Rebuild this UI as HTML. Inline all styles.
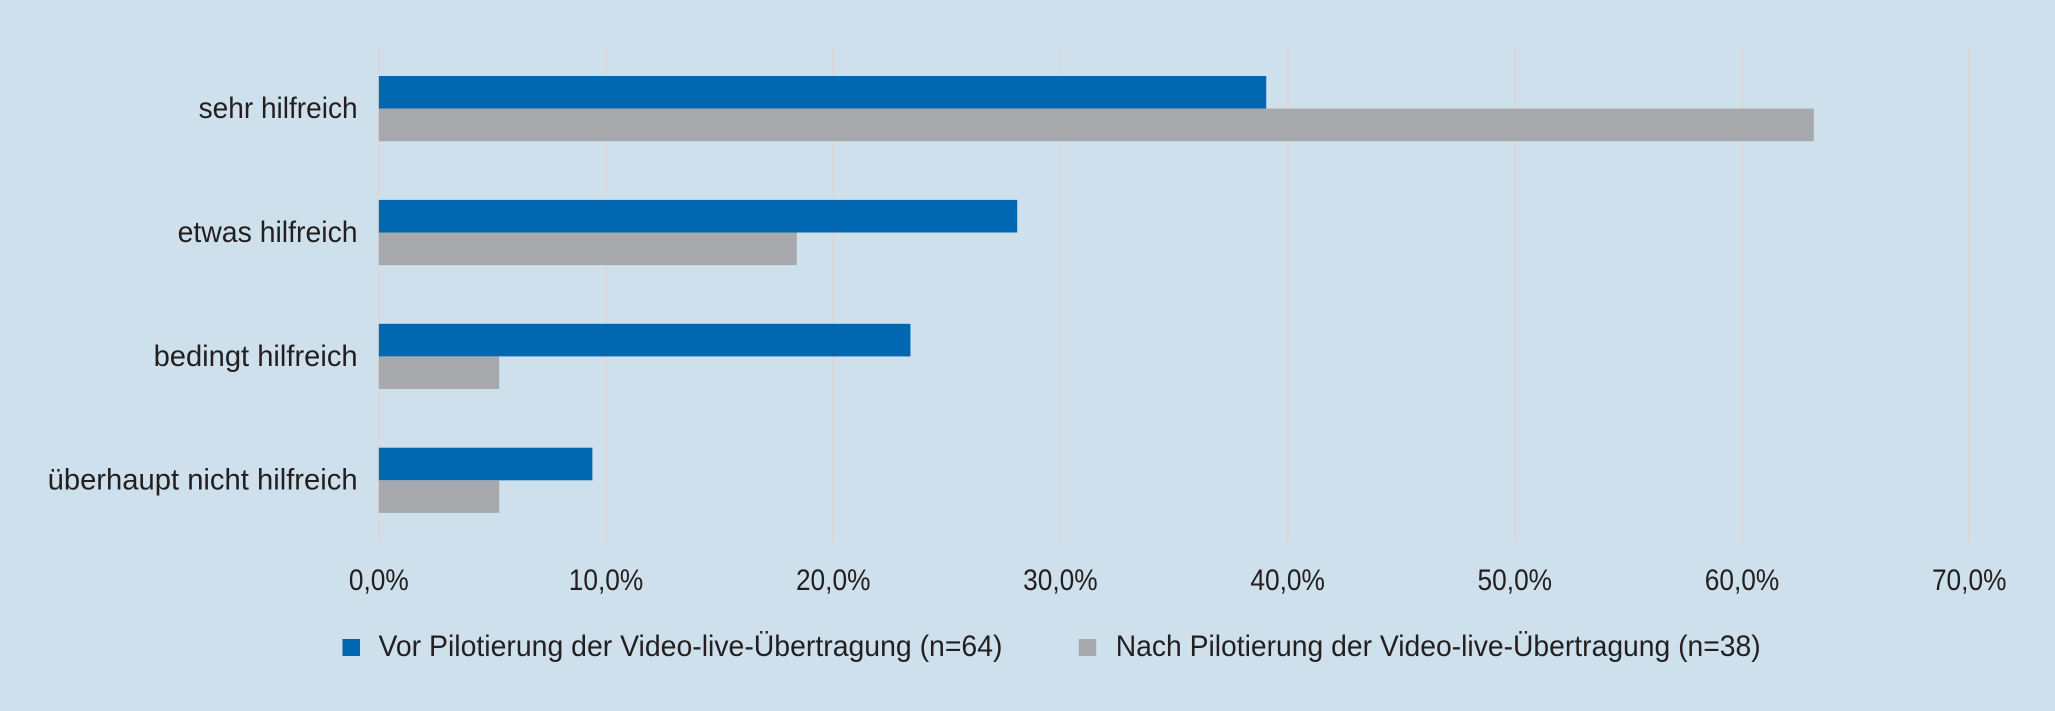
<!DOCTYPE html>
<html lang="de">
<head>
<meta charset="utf-8">
<title>Hilfreich-Bewertung</title>
<style>
html,body{margin:0;padding:0;background:#cee0ec;}
#chart{display:block;width:2055px;height:711px;}
text{font-family:"Liberation Sans",sans-serif;font-size:29.5px;fill:#231f20;}
</style>
</head>
<body>
<svg id="chart" xmlns="http://www.w3.org/2000/svg" width="2055" height="711" viewBox="0 0 2055 711">
<rect x="0" y="0" width="2055" height="711" fill="#cee0ec"/>
<g id="grid"></g>
<g id="bars"></g>
<g id="cats"></g>
<g id="ticks"></g>
<g>
<g>
<rect x="342.5" y="639" width="17.5" height="17" fill="#0067b0"/>
<text x="378.5" y="656" textLength="624" lengthAdjust="spacingAndGlyphs">Vor Pilotierung der Video-live-Übertragung (n=64)</text>
</g>
<g>
<rect x="1078.7" y="639" width="17.5" height="17" fill="#a7a9ac"/>
<text x="1115.7" y="656" textLength="645" lengthAdjust="spacingAndGlyphs">Nach Pilotierung der Video-live-Übertragung (n=38)</text>
</g>
</g>
</svg>
<script>
var categories = ["sehr hilfreich", "etwas hilfreich", "bedingt hilfreich", "überhaupt nicht hilfreich"];
var vorValues = [39.06, 28.1, 23.4, 9.4];
var nachValues = [63.16, 18.4, 5.3, 5.3];
var tickValues = [0, 10, 20, 30, 40, 50, 60, 70];
var tickLabels = ["0,0%", "10,0%", "20,0%", "30,0%", "40,0%", "50,0%", "60,0%", "70,0%"];

var NS = "http://www.w3.org/2000/svg";
var X0 = 378.8, PX_PER_UNIT = 22.72, GROUP_TOP = 76, GROUP_STEP = 123.9, BAR_H = 32.6;
var TICK_SQUEEZE = 0.89;
var CATEGORY_TEXT_PX = [159, 180, 204, 310];

function xScale(v) { return X0 + v * PX_PER_UNIT; }
function groupY(i) { return GROUP_TOP + i * GROUP_STEP; }
function make(tag, attrs, parent) {
  var el = document.createElementNS(NS, tag);
  for (var k in attrs) { el.setAttribute(k, attrs[k]); }
  parent.appendChild(el);
  return el;
}
function fit(el, px) {
  el.setAttribute("textLength", px.toFixed(1));
  el.setAttribute("lengthAdjust", "spacingAndGlyphs");
}

var gridG = document.getElementById("grid");
var barsG = document.getElementById("bars");
var catsG = document.getElementById("cats");
var ticksG = document.getElementById("ticks");

tickValues.forEach(function (t, i) {
  var line = make("line", { x1: xScale(t), x2: xScale(t), y1: 48, y2: 542, stroke: "#d9dadc", "stroke-width": 2.6 }, gridG);
  
  
  var label = make("text", { x: xScale(t), y: 590, "text-anchor": "middle" }, ticksG);
  label.textContent = tickLabels[i];
  
  
  fit(label, label.getComputedTextLength() * TICK_SQUEEZE);
});

categories.forEach(function (c, i) {
  var y = groupY(i);
  var vor = make("rect", { x: X0, y: y, width: xScale(vorValues[i]) - X0, height: BAR_H, fill: "#0067b0" }, barsG);
  
  
  var nach = make("rect", { x: X0, y: y + BAR_H, width: xScale(nachValues[i]) - X0, height: BAR_H, fill: "#a7a9ac" }, barsG);
  
  
  var label = make("text", { x: 357.6, y: y + 42, "text-anchor": "end" }, catsG);
  label.textContent = c;
  
  
  fit(label, CATEGORY_TEXT_PX[i]);
});
</script>
</body>
</html>
